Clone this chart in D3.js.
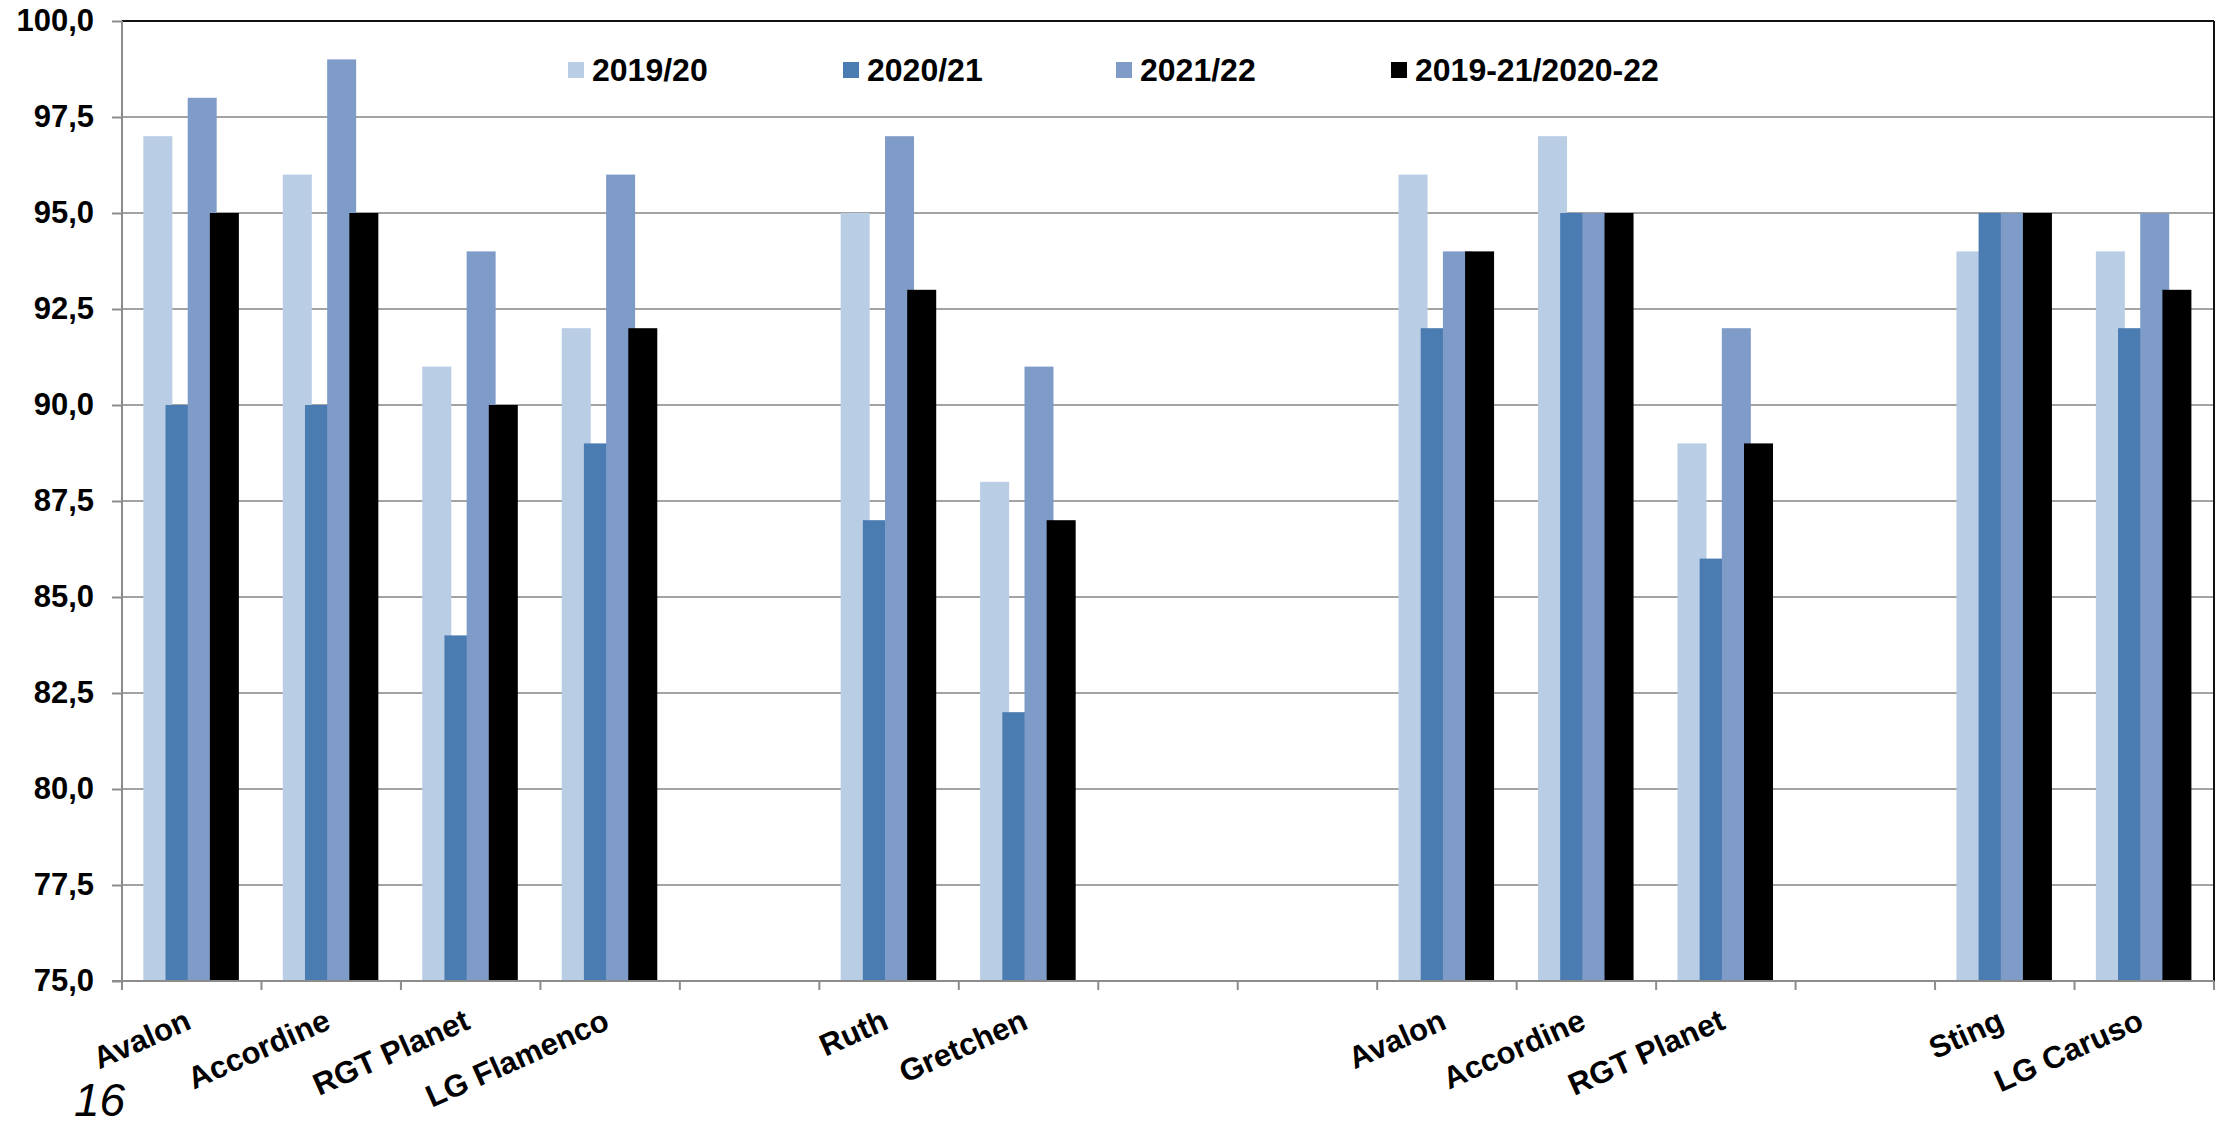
<!DOCTYPE html>
<html>
<head>
<meta charset="utf-8">
<script src="https://cdn.jsdelivr.net/npm/d3@7"></script>
<style>
  html, body { margin: 0; padding: 0; background: #fff; }
  svg { display: block; }
  text { font-family: "Liberation Sans", Arial, sans-serif; }
</style>
</head>
<body>
<svg id="chart" width="2215" height="1127"></svg>
<script>
// ---- data ----
const categories = ["Avalon", "Accordine", "RGT Planet", "LG Flamenco", "", "Ruth", "Gretchen", "", "",
                    "Avalon", "Accordine", "RGT Planet", "", "Sting", "LG Caruso"];
const seriesNames = ["2019/20", "2020/21", "2021/22", "2019-21/2020-22"];
const s2019 = [97, 96, 91, 92, null, 95, 88, null, null, 96, 97, 89, null, 94, 94];
const s2020 = [90, 90, 84, 89, null, 87, 82, null, null, 92, 95, 86, null, 95, 92];
const s2021 = [98, 99, 94, 96, null, 97, 91, null, null, 94, 95, 92, null, 95, 95];
const sAvg  = [95, 95, 90, 92, null, 93, 87, null, null, 94, 95, 89, null, 95, 93];
const yTicks = [75, 77.5, 80, 82.5, 85, 87.5, 90, 92.5, 95, 97.5, 100];
const pageNumber = "16";

const seriesValues = [s2019, s2020, s2021, sAvg];
const colors = ["#B9CDE5", "#4A7BB1", "#7F9CC9", "#000000"];

// ---- layout ----
const svg = d3.select("#chart");
const W = 2215, H = 1127;
const m = { left: 122, right: 2214, top: 21, bottom: 981 };

svg.append("rect").attr("width", W).attr("height", H).attr("fill", "#fff");

const x = d3.scaleBand().domain(d3.range(categories.length)).range([m.left, m.right]).padding(0);
const y = d3.scaleLinear().domain([75, 100]).range([m.bottom, m.top]);

const B = x.bandwidth();
const barW = B * 0.208;
const barStep = B * 0.159;
const barOff = B * 0.153;

// gridlines
svg.append("g").selectAll("line")
  .data(yTicks.filter(t => t > 75 && t < 100))
  .join("line")
  .attr("x1", m.left).attr("x2", m.right)
  .attr("y1", d => y(d)).attr("y2", d => y(d))
  .attr("stroke", "#a3a3a3").attr("stroke-width", 2);

// bars (later series drawn on top)
seriesValues.forEach((vals, j) => {
  svg.append("g").selectAll("rect")
    .data(vals.map((v, i) => ({ v, i })).filter(d => d.v !== null))
    .join("rect")
    .attr("x", d => x(d.i) + barOff + j * barStep)
    .attr("width", barW)
    .attr("y", d => y(d.v))
    .attr("height", d => y(75) - y(d.v))
    .attr("fill", colors[j]);
});

// plot border top/right
svg.append("line").attr("x1", m.left).attr("x2", m.right).attr("y1", m.top).attr("y2", m.top)
  .attr("stroke", "#111").attr("stroke-width", 2);
svg.append("line").attr("x1", m.right).attr("x2", m.right).attr("y1", m.top).attr("y2", m.bottom)
  .attr("stroke", "#111").attr("stroke-width", 2);

// y axis
const yAxis = d3.axisLeft(y).tickValues(yTicks).tickSize(10).tickPadding(18)
  .tickFormat(d => d.toFixed(1).replace(".", ","));
const gy = svg.append("g").attr("transform", `translate(${m.left},0)`).call(yAxis);
gy.select(".domain").attr("stroke", "#8c8c8c").attr("stroke-width", 2).attr("d", `M0,${m.top}V${m.bottom}`);
gy.selectAll(".tick line").attr("stroke", "#8c8c8c").attr("stroke-width", 2);
gy.selectAll(".tick text").attr("font-size", 31).attr("font-weight", "bold").attr("fill", "#000")
  .style("font-family", "'Liberation Sans', Arial, sans-serif");

// x axis: line + ticks at boundaries
const boundaries = d3.range(categories.length + 1).map(i => i < categories.length ? x(i) : m.right);
svg.append("line").attr("x1", m.left - 10).attr("x2", m.right).attr("y1", m.bottom).attr("y2", m.bottom)
  .attr("stroke", "#8c8c8c").attr("stroke-width", 2);
svg.append("g").selectAll("line").data(boundaries).join("line")
  .attr("x1", d => d).attr("x2", d => d)
  .attr("y1", m.bottom).attr("y2", m.bottom + 9)
  .attr("stroke", "#8c8c8c").attr("stroke-width", 2);

// x labels
svg.append("g").selectAll("text")
  .data(categories.map((c, i) => ({ c, i })).filter(d => d.c !== ""))
  .join("text")
  .attr("transform", d => `translate(${x(d.i) + B / 2 + 1},${m.bottom + 47}) rotate(-24)`)
  .attr("text-anchor", "end")
  .attr("font-size", 31).attr("font-weight", "bold").attr("fill", "#000")
  .text(d => d.c);

// legend
const legendX = [568, 843, 1116, 1391];
const lg = svg.append("g");
seriesNames.forEach((n, j) => {
  lg.append("rect").attr("x", legendX[j]).attr("y", 62).attr("width", 16).attr("height", 16).attr("fill", colors[j]);
  lg.append("text").attr("x", legendX[j] + 24).attr("y", 70).attr("dy", "0.35em")
    .attr("font-size", 32).attr("font-weight", "bold").attr("fill", "#000").text(n);
});

// page number
svg.append("text").attr("x", 74).attr("y", 1116)
  .attr("font-size", 46).attr("font-style", "italic").attr("fill", "#000").text(pageNumber);
</script>
</body>
</html>
